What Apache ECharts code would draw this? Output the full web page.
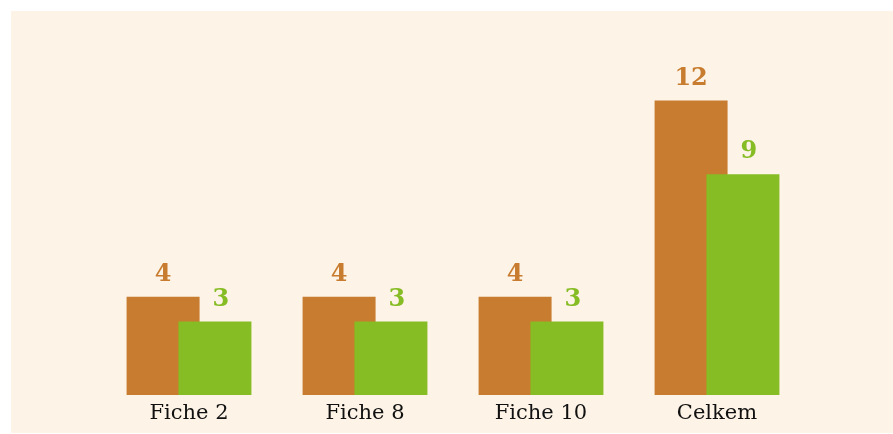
<!DOCTYPE html>
<head>
    <meta charset="utf-8">
    <title>Fiche bar chart</title>
    <script src="https://cdn.jsdelivr.net/npm/echarts@6/dist/echarts.min.js"></script>
</head>
<body style="margin:0;background:#fff">
    <div id="main" style="width:893px;height:434px"></div>
    <script type="text/javascript">
    // data
    var categories = ['Fiche 2', 'Fiche 8', 'Fiche 10', 'Celkem'];
    var brownValues = [4, 4, 4, 12];
    var greenValues = [3, 3, 3, 9];

    var brown = '#C87C2F';
    var green = '#86BC24';

    var myChart = echarts.init(document.getElementById('main'));
    myChart.setOption({
        backgroundColor: '#ffffff',
        animation: false,
        graphic: [{
            type: 'rect',
            z: -10,
            shape: {x: 11, y: 11, width: 882, height: 422},
            style: {fill: '#FDF3E6'}
        }],
        grid: {left: 101, right: 88, top: 76, bottom: 39},
        xAxis: {
            type: 'category',
            data: categories,
            axisLine: {show: false},
            axisTick: {show: false},
            axisLabel: {
                color: '#111',
                fontFamily: 'DejaVu Serif',
                fontSize: 21,
                margin: 8
            }
        },
        yAxis: {
            type: 'value',
            min: 0,
            max: 13,
            show: false,
            splitLine: {show: false}
        },
        series: [{
            name: 'a',
            type: 'bar',
            data: brownValues,
            barWidth: 73,
            barGap: '-29%',
            itemStyle: {color: brown},
            label: {
                show: true,
                position: 'top',
                distance: 10,
                color: brown,
                fontFamily: 'DejaVu Serif',
                fontWeight: 'bold',
                fontSize: 24
            }
        }, {
            name: 'b',
            type: 'bar',
            data: greenValues,
            barWidth: 73,
            itemStyle: {color: green},
            label: {
                show: true,
                position: 'top',
                distance: 10,
                offset: [6, 0],
                color: green,
                fontFamily: 'DejaVu Serif',
                fontWeight: 'bold',
                fontSize: 24
            }
        }]
    });
    </script>
</body>
